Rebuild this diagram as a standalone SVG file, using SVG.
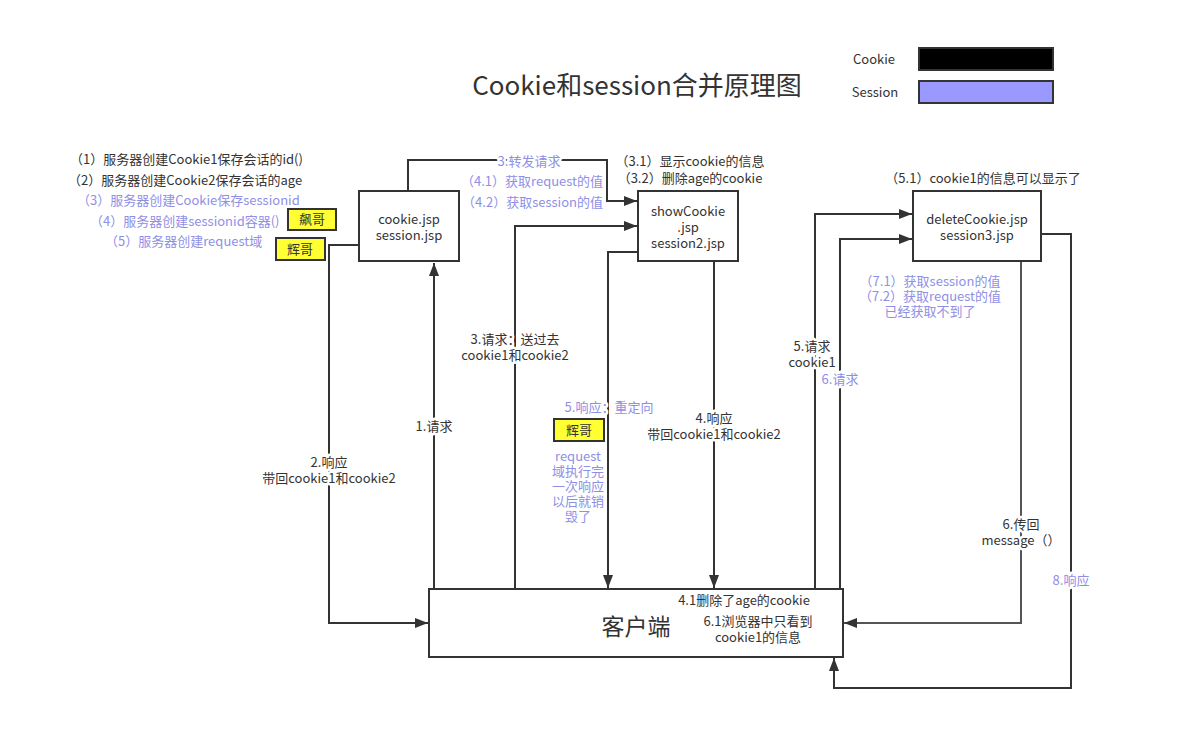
<svg xmlns="http://www.w3.org/2000/svg" width="1189" height="750" viewBox="0 0 1189 750">
<defs>
<marker id="arr" markerWidth="13" markerHeight="10" refX="13" refY="5" orient="auto" markerUnits="userSpaceOnUse"><path d="M0,0 L13,5 L0,10 z" fill="#333"/></marker>
<style>
text{font-family:"Noto Sans CJK SC","Microsoft YaHei",sans-serif;font-size:13px;fill:#333}
.p{fill:#8f8fe6}
.c{text-anchor:middle}
.e{text-anchor:end}
.h{paint-order:stroke;stroke:#fff;stroke-width:5px;stroke-linejoin:round}
.box{fill:#fff;stroke:#333;stroke-width:2}
.tag{fill:#ffff33;stroke:#333;stroke-width:2}
.ln{fill:none;stroke:#333;stroke-width:2}
</style>
</defs>
<rect width="1189" height="750" fill="#fff"/>
<text x="637" y="95" class="c" style="font-size:26px">Cookie和session合并原理图</text>
<g id="legend">
<text x="874" y="64" class="c">Cookie</text>
<rect x="919" y="48" width="134" height="22" fill="#000" stroke="#333" stroke-width="2"/>
<text x="875" y="97" class="c">Session</text>
<rect x="919" y="81" width="134" height="22" fill="#9999ff" stroke="#333" stroke-width="2"/>
</g>
<g id="connectors">
<path class="ln" d="M434,589 V263" marker-end="url(#arr)"/>
<path class="ln" d="M359,245 H329 V623 H428" marker-end="url(#arr)"/>
<path class="ln" d="M408,191 V160 H607 V201 H637" marker-end="url(#arr)"/>
<path class="ln" d="M515,589 V226 H637" marker-end="url(#arr)"/>
<path class="ln" d="M638,252 H608 V588" marker-end="url(#arr)"/>
<path class="ln" d="M714,261 V588" marker-end="url(#arr)"/>
<path class="ln" d="M815,589 V214 H912" marker-end="url(#arr)"/>
<path class="ln" d="M840,589 V239 H912" marker-end="url(#arr)"/>
<path class="ln" d="M1021,261 V623 H844" marker-end="url(#arr)" style="stroke:#555"/>
<path class="ln" d="M1041,234 H1071 V688 H834 V658" marker-end="url(#arr)"/>
</g>
<g id="labels">
<text x="529" y="166" class="c p h">3.转发请求</text>
<text x="603" y="186" class="e p">（4.1）获取request的值</text>
<text x="603" y="207" class="e p">（4.2）获取session的值</text>
<text x="515" y="344" class="c h">3.请求：送过去<tspan x="515" dy="16">cookie1和cookie2</tspan></text>
<text x="609" y="412" class="c p h">5.响应：重定向</text>
<text x="434" y="431" class="c h">1.请求</text>
<text x="714" y="423" class="c h">4.响应<tspan x="714" dy="16">带回cookie1和cookie2</tspan></text>
<text x="329" y="467" class="c h">2.响应<tspan x="329" dy="16">带回cookie1和cookie2</tspan></text>
<text x="578" y="461" class="c p">request<tspan x="578" dy="15">域执行完</tspan><tspan x="578" dy="15">一次响应</tspan><tspan x="578" dy="15">以后就销</tspan><tspan x="578" dy="15">毁了</tspan></text>
<text x="812" y="351" class="c h">5.请求<tspan x="812" dy="16">cookie1</tspan></text>
<text x="840" y="384" class="c p h">6.请求</text>
<text x="930" y="286" class="c p">（7.1）获取session的值<tspan x="930" dy="15">（7.2）获取request的值</tspan><tspan x="930" dy="15">已经获取不到了</tspan></text>
<text x="1021" y="529" class="c h">6.传回<tspan x="1021" dy="16">message（）</tspan></text>
<text x="1071" y="585" class="c p h">8.响应</text>
<text x="690" y="166" class="c">（3.1）显示cookie的信息<tspan x="690" dy="17">（3.2）删除age的cookie</tspan></text>
<text x="983" y="183" class="c">（5.1）cookie1的信息可以显示了</text>
<text x="70" y="164">（1）服务器创建Cookie1保存会话的id()</text>
<text x="68" y="185">（2）服务器创建Cookie2保存会话的age</text>
<text x="77" y="205" class="p">（3）服务器创建Cookie保存sessionid</text>
<text x="90" y="226" class="p">（4）服务器创建sessionid容器()</text>
<text x="105" y="246" class="p">（5）服务器创建request域</text>
</g>
<g id="cookie-jsp">
<rect class="box" x="359" y="191" width="100" height="70"/>
<text x="409" y="224" class="c">cookie.jsp<tspan x="409" dy="16">session.jsp</tspan></text>
</g>
<g id="showCookie">
<rect class="box" x="638" y="191" width="100" height="70"/>
<text x="688" y="216" class="c">showCookie<tspan x="688" dy="16">.jsp</tspan><tspan x="688" dy="16">session2.jsp</tspan></text>
</g>
<g id="deleteCookie">
<rect class="box" x="913" y="191" width="128" height="70"/>
<text x="977" y="224" class="c">deleteCookie.jsp<tspan x="977" dy="16">session3.jsp</tspan></text>
</g>
<g id="client">
<rect class="box" x="429" y="589" width="414" height="68"/>
<text x="636" y="635" class="c" style="font-size:23px">客户端</text>
<text x="744" y="605" class="c">4.1删除了age的cookie</text>
<text x="758" y="626" class="c">6.1浏览器中只看到<tspan x="758" dy="16">cookie1的信息</tspan></text>
</g>
<g id="tag-biaoge">
<rect class="tag" x="288" y="209" width="48" height="21"/>
<text x="312" y="224" class="c">飙哥</text>
</g>
<g id="tag-huige1">
<rect class="tag" x="276" y="238" width="49" height="22"/>
<text x="300" y="254" class="c">辉哥</text>
</g>
<g id="tag-huige2">
<rect class="tag" x="554" y="419" width="50" height="22"/>
<text x="579" y="435" class="c">辉哥</text>
</g>
</svg>
